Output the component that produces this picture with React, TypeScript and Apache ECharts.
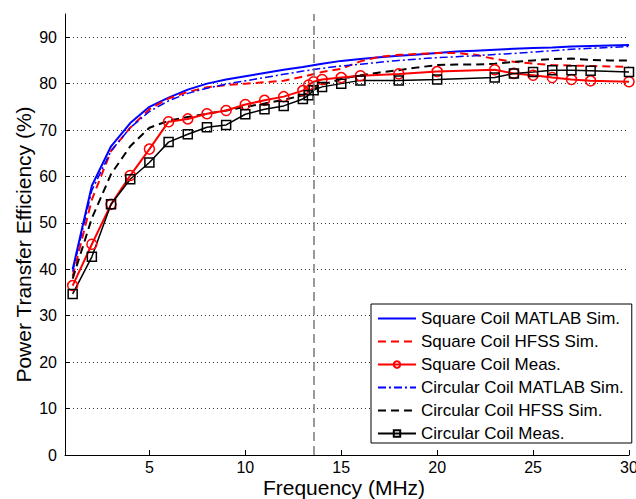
import React, { useEffect, useRef } from "react";
import * as echarts from "echarts";

const simFreq = [1, 2, 3, 4, 5, 6, 7, 8, 9, 10, 11, 12, 13, 14, 15, 16, 17, 18, 19, 20, 21, 22, 23, 24, 25, 26, 27, 28, 29, 30];
const squareMatlab = [40, 58, 66.5, 71.5, 75, 77, 78.7, 80, 80.9, 81.6, 82.3, 83, 83.6, 84.3, 84.9, 85.3, 85.7, 86, 86.3, 86.6, 86.9, 87.1, 87.3, 87.5, 87.7, 87.8, 88, 88.1, 88.2, 88.3];
const squareHfss = [38.5, 55, 65.5, 70.5, 74.5, 76.8, 78.2, 79.2, 79.7, 80, 80.3, 80.6, 81.5, 82.5, 83.2, 84.8, 85.8, 86.2, 86.4, 86.6, 86.6, 86.2, 85.3, 84.7, 84.3, 84, 83.9, 83.8, 83.7, 83.6];
const circMatlab = [39.5, 57, 65.5, 70.5, 74, 76.3, 77.9, 79, 79.9, 80.6, 81.3, 82, 82.7, 83.3, 83.8, 84.2, 84.6, 85, 85.3, 85.6, 85.8, 86, 86.3, 86.5, 86.8, 87.1, 87.4, 87.6, 87.8, 88];
const circHfss = [38, 51, 60.5, 66.5, 70.5, 72, 72.8, 73.5, 74.2, 75, 75.7, 76.5, 77.5, 79.8, 81, 81.8, 82.4, 82.9, 83.5, 84, 84.1, 84.1, 84.3, 84.7, 85, 85.3, 85.4, 85.1, 85, 85];

const measFreq = [1, 2, 3, 4, 5, 6, 7, 8, 9, 10, 11, 12, 13, 13.3, 13.56, 14, 15, 16, 18, 20, 23, 24, 25, 26, 27, 28, 30];
const squareMeas = [36.5, 45.4, 54, 60.2, 65.9, 71.8, 72.4, 73.5, 74.2, 75.5, 76.4, 77.2, 78.5, 79.7, 80.4, 80.9, 81.3, 81.7, 82.1, 82.6, 83, 82.2, 81.8, 81.3, 80.9, 80.6, 80.4];
const circMeas = [34.7, 42.7, 54, 59.4, 63, 67.4, 69.1, 70.6, 71.1, 73.4, 74.5, 75.2, 76.7, 77.5, 78.6, 79.3, 80, 80.7, 80.7, 80.9, 81.3, 82.2, 82.5, 82.9, 82.9, 82.8, 82.5];

const xTicks = [5, 10, 15, 20, 25, 30];
const yTicks = [0, 10, 20, 30, 40, 50, 60, 70, 80, 90];
const resonance = 13.56;

const seriesNames = [
  "Square Coil MATLAB Sim.",
  "Square Coil HFSS Sim.",
  "Square Coil Meas.",
  "Circular Coil MATLAB Sim.",
  "Circular Coil HFSS Sim.",
  "Circular Coil Meas.",
];

const FONT = "'Liberation Sans', Arial, Helvetica, sans-serif";
const CLEAR = "rgba(255,255,255,0)";

function pairs(xs: number[], ys: number[]) {
  return xs.map((x, i) => [x, ys[i]]);
}

export default function App() {
  const ref = useRef<HTMLDivElement>(null);
  useEffect(() => {
    if (!ref.current) return;
    const chart = echarts.init(ref.current, undefined, { renderer: "svg" });
    const simLine = (name: string, data: number[], color: string, type: any, width: number) => ({
      name,
      type: "line",
      data: pairs(simFreq, data),
      symbol: "none",
      showSymbol: false,
      lineStyle: { color, type, width },
      itemStyle: { color: CLEAR },
      z: 2,
    });
    const measLine = (name: string, data: number[], color: string, symbol: string, size: number, width: number) => ({
      name,
      type: "line",
      data: pairs(measFreq, data),
      symbol,
      symbolSize: size,
      showSymbol: true,
      lineStyle: { color, width, type: "solid" },
      itemStyle: { color: CLEAR, borderColor: color, borderWidth: 1.5 },
      z: 3,
    });
    const option: any = {
      animation: false,
      backgroundColor: "#ffffff",
      textStyle: { fontFamily: FONT },
      grid: { left: 65, right: 7, top: 14, bottom: 44, containLabel: false, outerBoundsMode: "none" },
      xAxis: {
        type: "value",
        min: 0.6,
        max: 30,
        axisLine: { show: true, onZero: false, lineStyle: { color: "#000", width: 1 } },
        axisTick: { show: true, inside: true, length: 5, customValues: xTicks, lineStyle: { color: "#000" } },
        axisLabel: { customValues: xTicks, color: "#000", fontSize: 16, margin: 4, fontFamily: FONT },
        splitLine: { show: false },
        name: "Frequency (MHz)",
        nameLocation: "middle",
        nameGap: 22,
        nameMoveOverlap: false,
        nameTextStyle: { fontSize: 21, color: "#000", fontFamily: FONT, padding: [0, 6, 0, 0] },
      },
      yAxis: {
        type: "value",
        min: 0,
        max: 95,
        axisLine: { show: true, onZero: false, lineStyle: { color: "#000", width: 1 } },
        axisTick: { show: true, inside: true, length: 5, customValues: yTicks, lineStyle: { color: "#000" } },
        axisLabel: { customValues: yTicks, color: "#000", fontSize: 16, margin: 8, fontFamily: FONT },
        splitLine: { show: true, lineStyle: { color: "#333", type: [1, 3], width: 1 } },
        name: "Power Transfer Efficiency (%)",
        nameLocation: "middle",
        nameGap: 31,
        nameMoveOverlap: false,
        nameTextStyle: { fontSize: 21, color: "#000", fontFamily: FONT, padding: [0, 20, 0, 0] },
      },
      legend: {
        orient: "vertical",
        left: 371,
        top: 304,
        padding: [6, 8, 1, 6],
        itemWidth: 38,
        itemHeight: 8,
        itemGap: 6,
        backgroundColor: "#fff",
        borderColor: "#000",
        borderWidth: 1,
        borderRadius: 0,
        textStyle: { fontSize: 17, lineHeight: 17, color: "#000", fontFamily: FONT },
        data: seriesNames,
      },
      series: [
        {
          ...simLine(seriesNames[0], squareMatlab, "#0000ff", "solid", 2),
          markLine: {
            symbol: "none",
            silent: true,
            label: { show: false },
            lineStyle: { color: "#7a7a7a", type: [9, 5], width: 1.5 },
            data: [{ xAxis: resonance }],
          },
        },
        simLine(seriesNames[1], squareHfss, "#ff0000", [8, 5], 2),
        measLine(seriesNames[2], squareMeas, "#ff0000", "circle", 10, 2),
        simLine(seriesNames[3], circMatlab, "#0000ff", [8, 3, 2, 3], 1.5),
        simLine(seriesNames[4], circHfss, "#000000", [8, 5], 2),
        measLine(seriesNames[5], circMeas, "#000000", "rect", 9, 1.5),
      ],
    };
    chart.setOption(option);
    return () => chart.dispose();
  }, []);
  return (
    <div
      ref={ref}
      style={{ position: "fixed", left: 0, top: 0, width: 636, height: 499, background: "#fff" }}
    />
  );
}
